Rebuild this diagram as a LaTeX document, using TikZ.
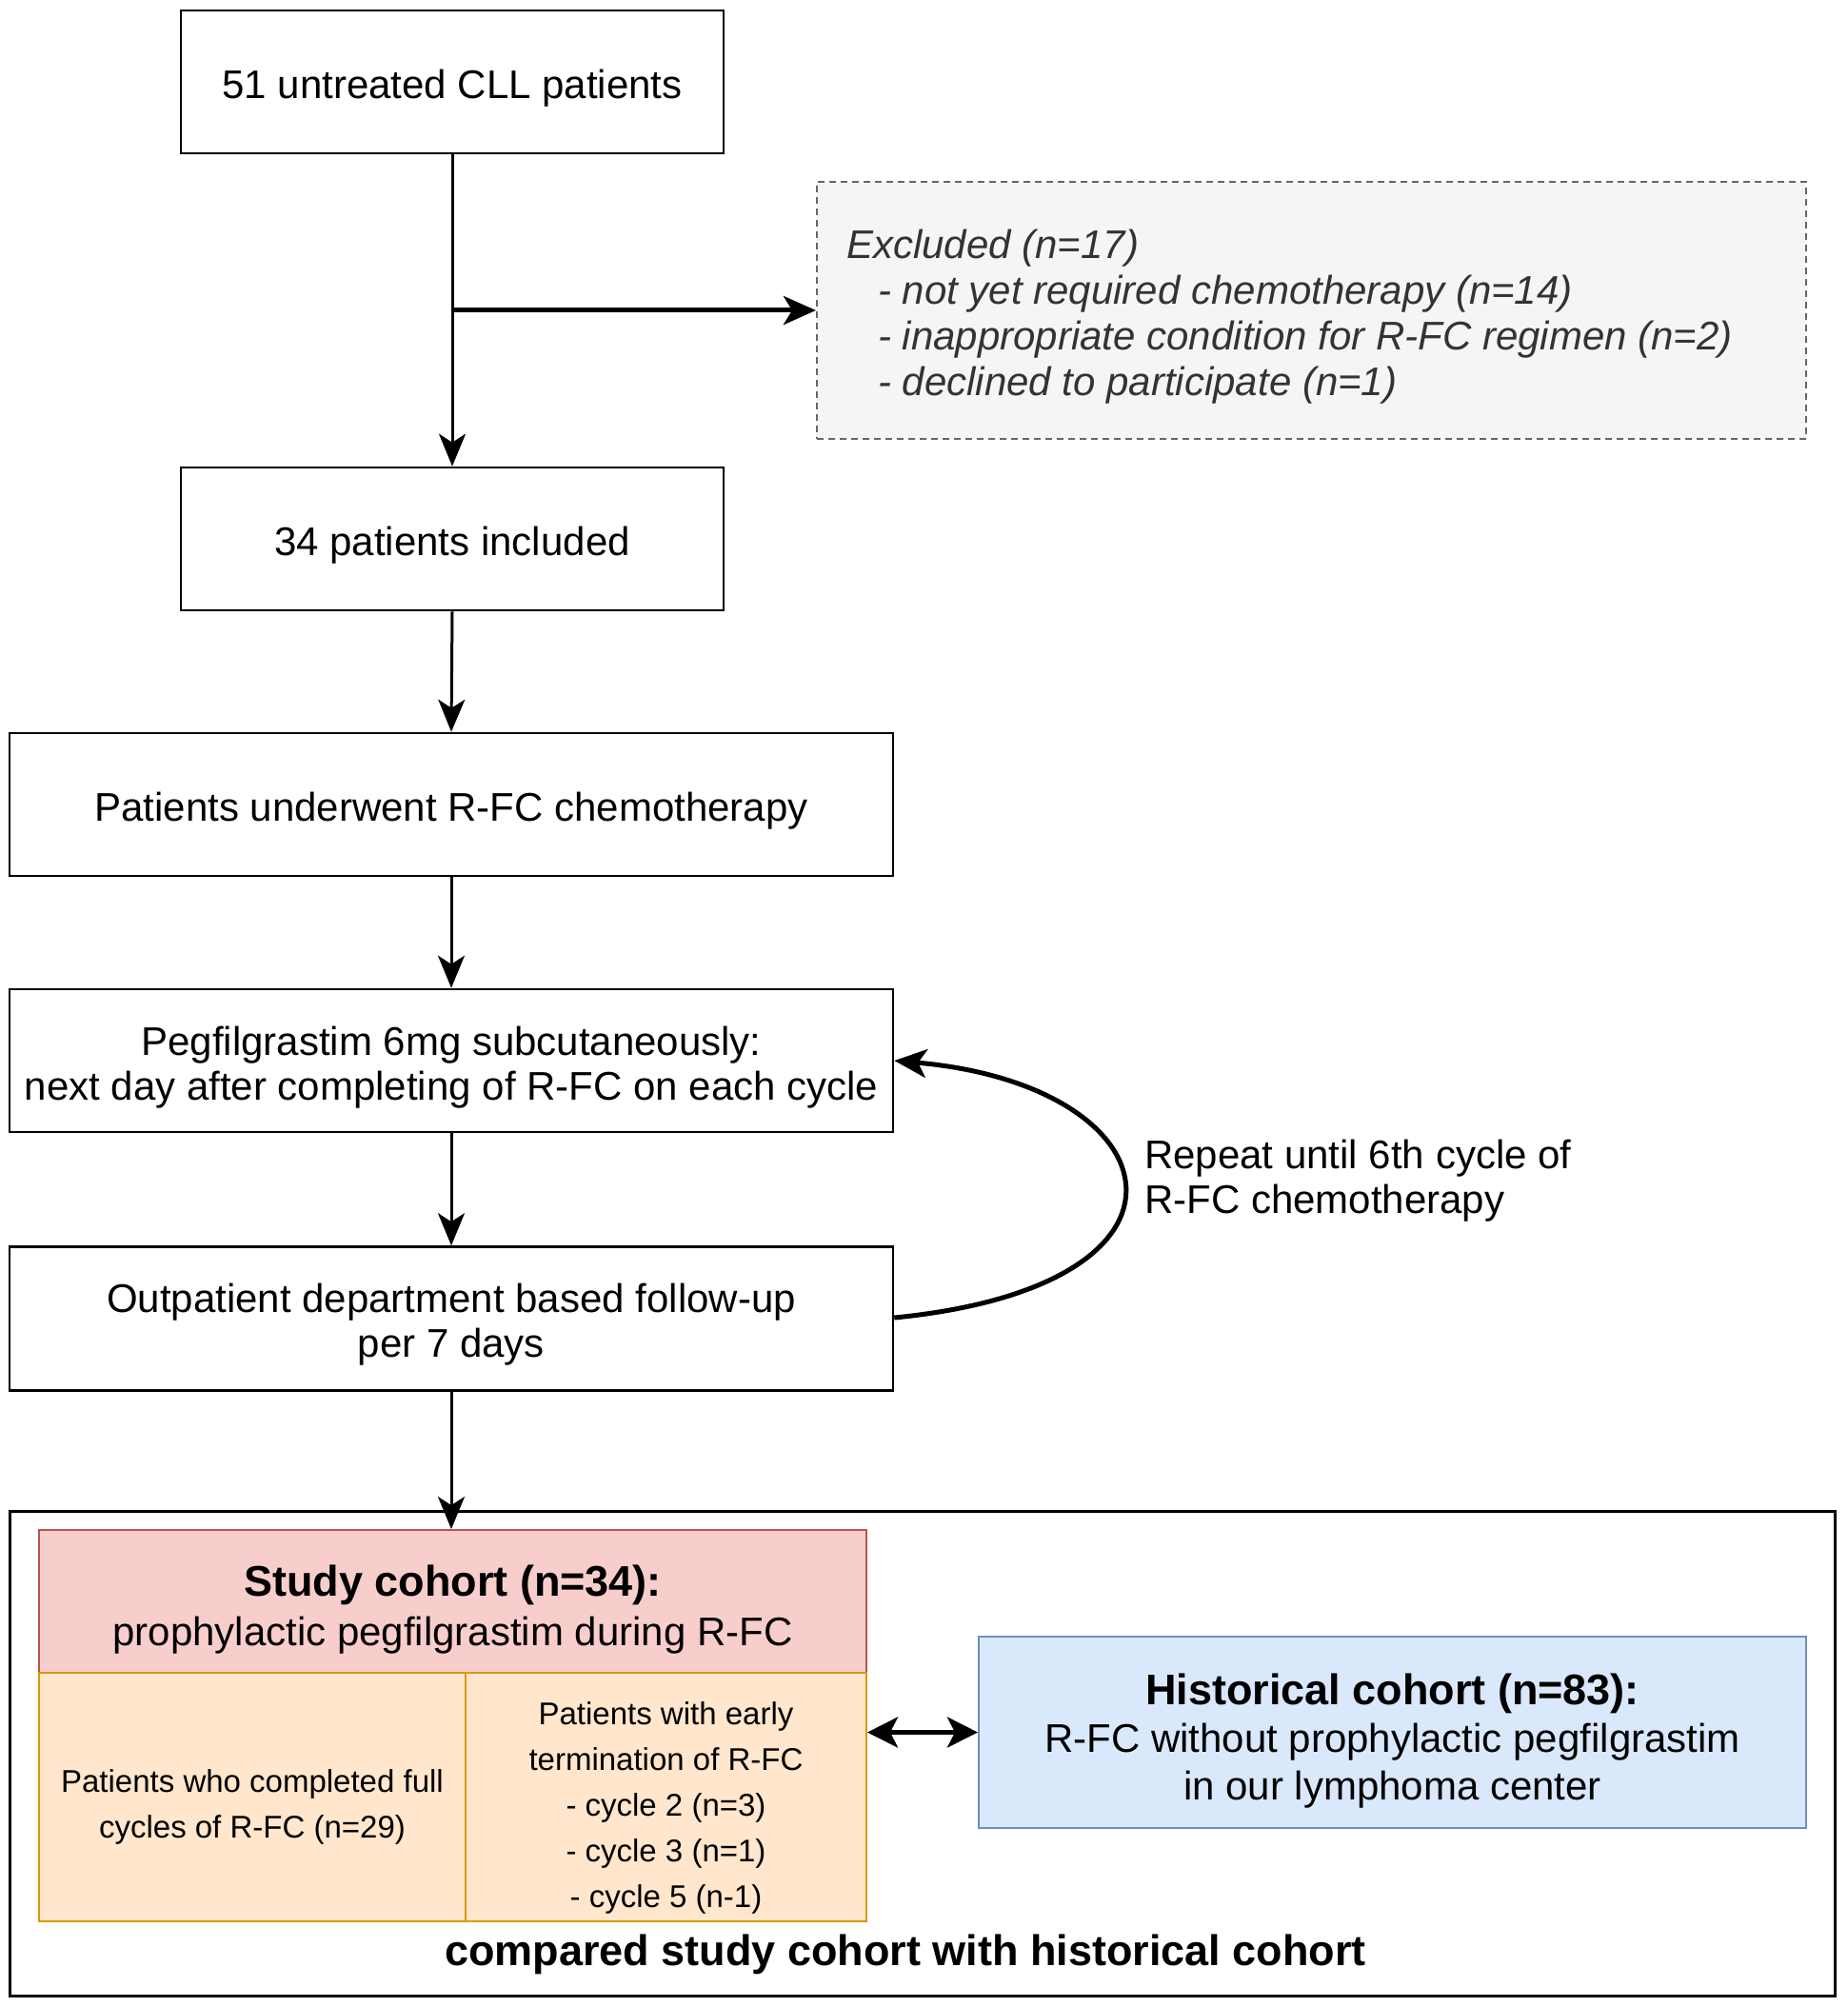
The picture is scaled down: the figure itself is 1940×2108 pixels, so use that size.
\documentclass[tikz,border=0pt]{standalone}
\usepackage{fontspec}
\setmainfont{Liberation Sans}
\usetikzlibrary{arrows.meta}
\definecolor{exfill}{HTML}{F5F5F5}
\definecolor{exdraw}{HTML}{666666}
\definecolor{extext}{HTML}{333333}
\definecolor{redfill}{HTML}{F8CECC}
\definecolor{reddraw}{HTML}{B85450}
\definecolor{orfill}{HTML}{FFE6CC}
\definecolor{ordraw}{HTML}{D79B00}
\definecolor{blfill}{HTML}{DAE8FC}
\definecolor{bldraw}{HTML}{6C8EBF}
\tikzset{
  mainfont/.style={font=\fontsize{42}{47}\selectfont},
  smallfont/.style={font=\fontsize{33}{48}\selectfont},
  box/.style={draw, line width=2.6pt, inner sep=0pt},
  txt/.style={inner sep=0pt, align=center},
  arr/.style={-{Stealth[length=34pt,width=28pt,inset=9pt]}, line width=3pt},
  thickarr/.style={-{Stealth[length=34pt,width=30pt,inset=9pt]}, line width=5pt},
}
\begin{document}
\begin{tikzpicture}[x=1pt,y=-1pt]
\useasboundingbox (0,0) rectangle (1940,2108);
% top boxes
\node[box, minimum width=570pt, minimum height=150pt] (b1) at (475,86) {};
\node[txt, mainfont] (b1t) at ([yshift=-7pt]b1.center) {51 untreated CLL patients};
\node[draw=exdraw, fill=exfill, dashed, dash pattern=on 7pt off 5pt, line width=2pt, minimum width=1039pt, minimum height=270pt, inner sep=0pt] (excl) at (1377.5,326) {};
\node[anchor=west, align=left, inner sep=0pt, text=extext, font=\fontsize{42}{48}\selectfont\itshape] (excltext) at (889,333)
  {Excluded (n=17)\\\hspace*{33pt}- not yet required chemotherapy (n=14)\\\hspace*{33pt}- inappropriate condition for R-FC regimen (n=2)\\\hspace*{33pt}- declined to participate (n=1)};
\node[box, minimum width=570pt, minimum height=150pt] (b2) at (475,566) {};
\node[txt, mainfont] (b2t) at ([yshift=-7pt]b2.center) {34 patients included};
\node[box, minimum width=928pt, minimum height=150pt] (b3) at (474,845) {};
\node[txt, mainfont] (b3t) at ([yshift=-7pt]b3.center) {Patients underwent R-FC chemotherapy};
\node[box, minimum width=928pt, minimum height=150pt] (b4) at (474,1114) {};
\node[txt, mainfont] (b4t) at ([yshift=-7pt]b4.center) {Pegfilgrastim 6mg subcutaneously:\\next day after completing of R-FC on each cycle};
\node[box, minimum width=928pt, minimum height=151pt] (b5) at (474,1385) {};
\node[txt, mainfont] (b5t) at ([yshift=-6pt]b5.center) {Outpatient department based follow-up\\per 7 days};
\node[anchor=west, align=left, inner sep=0pt, mainfont] (rep) at (1202,1240) {Repeat until 6th cycle of\\R-FC chemotherapy};
% bottom group
\node[draw, line width=3pt, minimum width=1917pt, minimum height=509pt, inner sep=0pt] (outer) at (968.5,1841.5) {};
\node[draw=reddraw, fill=redfill, line width=2pt, minimum width=869pt, minimum height=150pt, inner sep=0pt] (study) at (475.5,1682) {};
\node[txt, font=\fontsize{42}{52}\selectfont] (studyt) at ([yshift=-9pt]study.center)
  {{\fontsize{45}{52}\selectfont\bfseries Study cohort (n=34):}\\prophylactic pegfilgrastim during R-FC};
\node[draw=ordraw, fill=orfill, line width=2pt, minimum width=448pt, minimum height=261pt, inner sep=0pt] (full) at (265,1887.5) {};
\node[txt, smallfont] (fullt) at ([yshift=-10pt]full.center) {Patients who completed full\\cycles of R-FC (n=29)};
\node[draw=ordraw, fill=orfill, line width=2pt, minimum width=421pt, minimum height=261pt, inner sep=0pt] (early) at (699.5,1887.5) {};
\node[txt, smallfont] (earlyt) at ([yshift=-11pt]early.center)
  {Patients with early\\termination of R-FC\\- cycle 2 (n=3)\\- cycle 3 (n=1)\\- cycle 5 (n-1)};
\node[draw=bldraw, fill=blfill, line width=2pt, minimum width=869pt, minimum height=201pt, inner sep=0pt] (hist) at (1462.5,1819.5) {};
\node[txt, font=\fontsize{42}{50}\selectfont] (histt) at ([yshift=-9pt]hist.center)
  {{\fontsize{45}{52}\selectfont\bfseries Historical cohort (n=83):}\\R-FC without prophylactic pegfilgrastim\\in our lymphoma center};
\node[inner sep=0pt, font=\fontsize{45}{52}\selectfont\bfseries] (cmp) at (951,2053) {compared study cohort with historical cohort};
% connectors
\coordinate (br) at (b1.south |- excl.west);
\draw[arr] (b1.south) -- (b2.north);
\draw[thickarr] (br) -- (excl.west);
\draw[arr] (b2.south) -- (b3.north);
\draw[arr] (b3.south) -- (b4.north);
\draw[arr] (b4.south) -- (b5.north);
\draw[arr] (b5.south) -- (b5.south |- study.north);
\draw[thickarr] ([yshift=1pt]b5.east) .. controls (1285,1350) and (1235,1140) .. (b4.east);
\draw[{Stealth[length=32pt,width=32pt,inset=8pt]}-{Stealth[length=32pt,width=32pt,inset=8pt]}, line width=5pt] (hist.west -| early.east) -- (hist.west);
\end{tikzpicture}
\end{document}
